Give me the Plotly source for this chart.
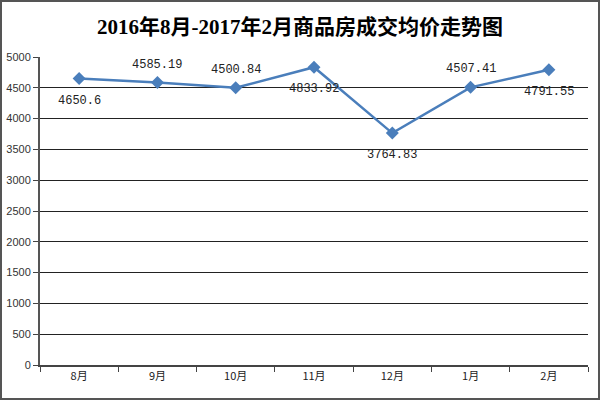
import plotly.graph_objects as go

months = ["8月", "9月", "10月", "11月", "12月", "1月", "2月"]
prices = [4650.6, 4585.19, 4500.84, 4833.92, 3764.83, 4507.41, 4791.55]
label_above = [False, True, True, False, False, True, False]
y_ticks = [0, 500, 1000, 1500, 2000, 2500, 3000, 3500, 4000, 4500, 5000]

W, H = 600, 400
L, R, T, B = 40, 12, 57, 35
pw, ph = W - L - R, H - T - B

fig = go.Figure()
fig.add_trace(go.Scatter(
    x=months, y=prices, mode="lines+markers",
    line=dict(color="#4a7ebb", width=2.5),
    marker=dict(symbol="diamond", size=10, color="#4a7ebb"),
    cliponaxis=False,
    showlegend=False,
))

annotations = []
for m, v, up in zip(months, prices, label_above):
    annotations.append(dict(
        x=m, y=v, xref="x", yref="y", text=f"{v:g}", showarrow=False,
        yshift=18 if up else -22,
        font=dict(family="Liberation Mono, DejaVu Sans Mono, monospace", size=12, color="#222"),
    ))

fig.update_layout(
    width=W, height=H,
    margin=dict(l=L, r=R, t=T, b=B, autoexpand=False),
    paper_bgcolor="white", plot_bgcolor="white",
    title=dict(text="<b>2016年8月-2017年2月商品房成交均价走势图</b>",
               x=0.5, xanchor="center", y=1 - 27 / H, yanchor="middle",
               font=dict(family="Liberation Serif, Noto Sans CJK SC, serif", size=21, color="black")),
    xaxis=dict(
        type="category", showgrid=False, automargin=False,
        showline=True, linecolor="#444", linewidth=2,
        ticks="outside", ticklen=5, tickcolor="#444", tickson="boundaries",
        tickfont=dict(family="Noto Sans CJK SC, sans-serif", size=11, color="#222"),
        range=[-0.5, 6.5],
    ),
    yaxis=dict(
        range=[0, 5000], tickvals=y_ticks, automargin=False,
        showgrid=True, gridcolor="#222", gridwidth=1,
        showline=True, linecolor="#555", linewidth=2,
        ticks="outside", ticklen=5, tickcolor="#444",
        tickfont=dict(family="Liberation Sans, Arial, sans-serif", size=11, color="#333"),
        zeroline=False,
    ),
    annotations=annotations,
    shapes=[dict(
        type="rect", xref="paper", yref="paper",
        x0=(-L + 1) / pw, x1=(pw + R - 1) / pw,
        y0=(-B + 1) / ph, y1=(ph + T - 1) / ph,
        line=dict(color="#555", width=2), fillcolor="rgba(0,0,0,0)", layer="above",
    )],
)

fig.write_html("out.html", config={"displayModeBar": False},
               post_script="document.body.style.margin='0';document.body.style.overflow='hidden';")
